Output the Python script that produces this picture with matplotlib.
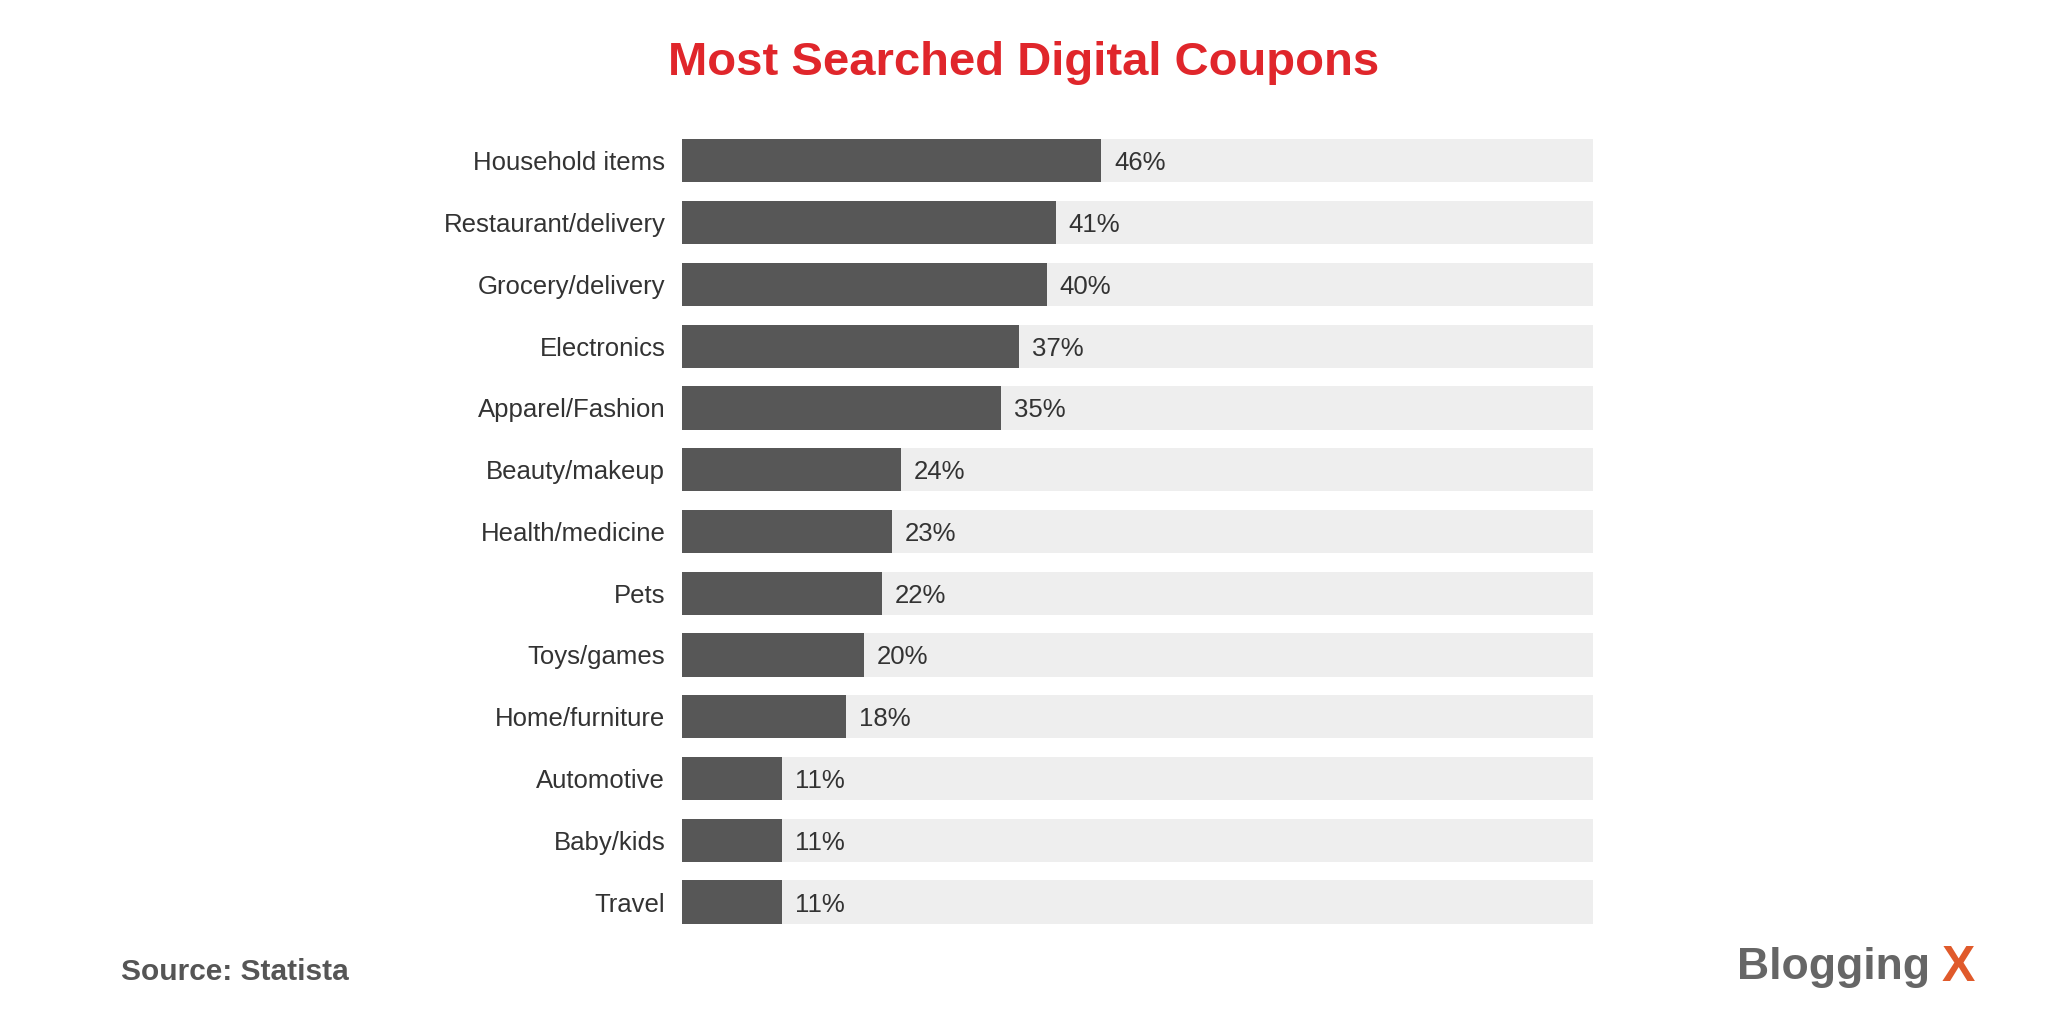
import matplotlib.pyplot as plt

categories = ['Household items', 'Restaurant/delivery', 'Grocery/delivery', 'Electronics',
              'Apparel/Fashion', 'Beauty/makeup', 'Health/medicine', 'Pets', 'Toys/games',
              'Home/furniture', 'Automotive', 'Baby/kids', 'Travel']
values = [46, 41, 40, 37, 35, 24, 23, 22, 20, 18, 11, 11, 11]

plt.rcParams['font.family'] = ['Liberation Sans', 'DejaVu Sans']

fig = plt.figure(figsize=(20.48, 10.24), dpi=100)
ax = fig.add_axes([0.333, 0.098, 0.445, 0.766])

y = range(len(categories))
ax.barh(y, [100] * len(values), height=0.7, color='#eeeeee')
ax.barh(y, values, height=0.7, color='#575757')
for i, v in enumerate(values):
    ax.text(v + 1.4, i + 0.04, f'{v}%', va='center', ha='left', fontsize=18.5, color='#333333')

ax.set_xlim(0, 100)
ax.set_ylim(len(categories) - 0.65, -0.35)
ax.set_yticks(list(y))
ax.set_yticklabels(categories, fontsize=18.5, color='#333333')
ax.tick_params(axis='y', length=0, pad=12)
ax.set_xticks([])
for s in ax.spines.values():
    s.set_visible(False)

fig.text(0.5, 0.938, 'Most Searched Digital Coupons', ha='center', va='center',
         fontsize=34, fontweight='bold', color='#e0262b')
fig.text(0.059, 0.051, 'Source: Statista', ha='left', va='center',
         fontsize=21.5, fontweight='bold', color='#555555')
fig.text(0.848, 0.055, 'Blogging', ha='left', va='center',
         fontsize=32, fontweight='bold', color='#666666')
fig.text(0.948, 0.055, 'X', ha='left', va='center',
         fontsize=36, fontweight='bold', color='#e05a2b')

fig.savefig('out.png', dpi=100)
